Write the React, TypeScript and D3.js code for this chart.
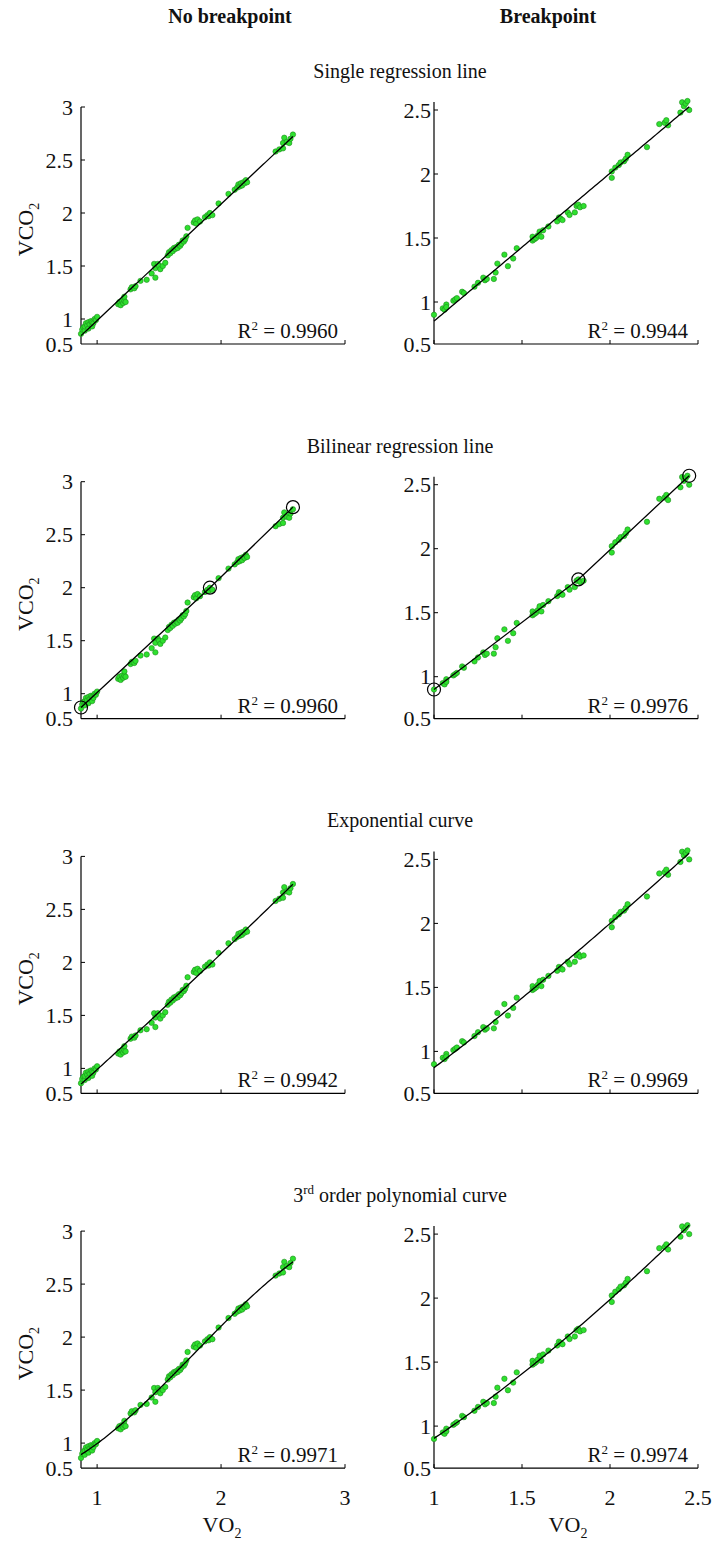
import * as d3 from "d3"

// VO2 / VCO2 samples, no breakpoint subject (left column)
const noBpVO2 = [
  0.87, 0.88, 0.89, 0.90, 0.90, 0.91, 0.92, 0.93, 0.93, 0.94, 0.95, 0.96, 0.96, 0.97, 0.98, 0.99, 1.00,
  1.17, 1.18, 1.19, 1.20, 1.21, 1.22, 1.22, 1.23,
  1.27, 1.28, 1.30, 1.31, 1.35, 1.40,
  1.44, 1.46, 1.47, 1.47, 1.49, 1.50, 1.51, 1.53, 1.55,
  1.57, 1.58, 1.59, 1.60, 1.61, 1.62, 1.63, 1.64, 1.65, 1.66, 1.67, 1.68, 1.69, 1.70, 1.71,
  1.72, 1.73, 1.78, 1.79, 1.80, 1.81, 1.83, 1.87, 1.89, 1.90, 1.91, 1.93, 1.98, 2.06,
  2.11, 2.13, 2.14, 2.15, 2.16, 2.17, 2.18, 2.19, 2.20, 2.21,
  2.44, 2.47, 2.50, 2.50, 2.51, 2.53, 2.55, 2.56, 2.58,
]
const noBpVCO2 = [
  0.86, 0.90, 0.92, 0.89, 0.93, 0.96, 0.94, 0.97, 0.91, 0.95, 0.98, 0.93, 0.97, 0.96, 1.00, 0.99, 1.02,
  1.14, 1.16, 1.13, 1.17, 1.15, 1.17, 1.21, 1.16,
  1.28, 1.30, 1.29, 1.31, 1.36, 1.37,
  1.43, 1.52, 1.39, 1.48, 1.52, 1.50, 1.47, 1.50, 1.53,
  1.60, 1.63, 1.62, 1.65, 1.64, 1.67, 1.66, 1.68, 1.67, 1.70, 1.69, 1.71, 1.74, 1.73, 1.75,
  1.78, 1.86, 1.91, 1.93, 1.90, 1.94, 1.92, 1.96, 1.98, 1.97, 2.00, 1.98, 2.09, 2.18,
  2.22, 2.24, 2.27, 2.25, 2.28, 2.26, 2.29, 2.28, 2.31, 2.29,
  2.58, 2.60, 2.61, 2.66, 2.71, 2.67, 2.66, 2.70, 2.74,
]

// breakpoint subject (right column)
const bpVO2 = [
  1.00, 1.05, 1.06, 1.07, 1.07, 1.11, 1.12, 1.13, 1.16, 1.17, 1.23, 1.25, 1.28, 1.29, 1.30,
  1.34, 1.35, 1.36, 1.40, 1.42, 1.45, 1.47,
  1.56, 1.56, 1.57, 1.58, 1.59, 1.60, 1.61, 1.62, 1.65, 1.70, 1.71, 1.72, 1.73, 1.76, 1.77,
  1.80, 1.81, 1.82, 1.83, 1.85,
  2.01, 2.01, 2.03, 2.05, 2.06, 2.08, 2.09, 2.10, 2.21,
  2.28, 2.31, 2.32, 2.33, 2.40, 2.41, 2.42, 2.43, 2.44, 2.45,
]
const bpVCO2 = [
  0.90, 0.95, 0.94, 0.98, 0.96, 1.01, 1.02, 1.03, 1.08, 1.07, 1.12, 1.15, 1.19, 1.17, 1.18,
  1.18, 1.23, 1.30, 1.37, 1.28, 1.34, 1.42,
  1.48, 1.51, 1.49, 1.50, 1.52, 1.55, 1.51, 1.56, 1.59, 1.63, 1.66, 1.65, 1.64, 1.70, 1.68,
  1.70, 1.75, 1.76, 1.74, 1.75,
  1.97, 2.02, 2.05, 2.07, 2.09, 2.10, 2.12, 2.15, 2.21,
  2.39, 2.40, 2.42, 2.38, 2.48, 2.56, 2.53, 2.55, 2.57, 2.50,
]

// bilinear knots (circled)
const noBpKnotVO2 = [0.87, 1.91, 2.58]
const noBpKnotVCO2 = [0.87, 2.0, 2.76]
const bpKnotVO2 = [1.0, 1.82, 2.45]
const bpKnotVCO2 = [0.9, 1.76, 2.57]

const columnTitles = ["No breakpoint", "Breakpoint"]
const rowTitles = ["Single regression line", "Bilinear regression line", "Exponential curve", "3rd order polynomial curve"]
const fitTypes = ["linear", "bilinear", "exp", "cubic"]
const noBpR2 = ["0.9960", "0.9960", "0.9942", "0.9971"]
const bpR2 = ["0.9944", "0.9976", "0.9969", "0.9974"]

const noBpXTicks = [1, 2, 3]
const bpXTicks = [1, 1.5, 2, 2.5]
// the lowest label sits on the axis floor
const noBpYTicks = [1, 1.5, 2, 2.5, 3]
const bpYTicks = [1, 1.5, 2, 2.5]
const yFloorLabel = "0.5"

const W = 713
const H = 1542
const ROW_STEP = 374.7
const AXIS_BOTTOM = 344
const FONT = "'Liberation Serif', 'Times New Roman', serif"
const DOT_FILL = "#2ee02e"
const DOT_STROKE = "#1c8c1c"
const TEXT = "#111"

function linearFit(xs: number[], ys: number[]) {
  const mx = d3.mean(xs)!, my = d3.mean(ys)!
  let sxy = 0, sxx = 0
  xs.forEach((x, i) => { sxy += (x - mx) * (ys[i] - my); sxx += (x - mx) * (x - mx) })
  const b = sxy / sxx
  return { a: my - b * mx, b, f: (x: number) => my + b * (x - mx) }
}

// y = a * x^b, nonlinear least squares (Gauss-Newton from log-log start)
function expFit(xs: number[], ys: number[]) {
  const lg = linearFit(xs.map(Math.log), ys.map(Math.log))
  let a = Math.exp(lg.a), b = lg.b
  for (let it = 0; it < 60; it++) {
    let j11 = 0, j12 = 0, j22 = 0, g1 = 0, g2 = 0
    xs.forEach((x, i) => {
      const e = Math.pow(x, b)
      const r = ys[i] - a * e
      const da = e, db = a * Math.log(x) * e
      j11 += da * da; j12 += da * db; j22 += db * db
      g1 += da * r; g2 += db * r
    })
    const det = j11 * j22 - j12 * j12
    a += (j22 * g1 - j12 * g2) / det
    b += (j11 * g2 - j12 * g1) / det
  }
  return (x: number) => a * Math.pow(x, b)
}

function cubicFit(xs: number[], ys: number[]) {
  const mx = d3.mean(xs)!
  const n = 4
  const A = d3.range(n).map(() => new Array(n + 1).fill(0))
  xs.forEach((x0, k) => {
    const x = x0 - mx
    for (let i = 0; i < n; i++) {
      for (let j = 0; j < n; j++) A[i][j] += Math.pow(x, i + j)
      A[i][n] += Math.pow(x, i) * ys[k]
    }
  })
  for (let c = 0; c < n; c++) {
    let p = c
    for (let r = c + 1; r < n; r++) if (Math.abs(A[r][c]) > Math.abs(A[p][c])) p = r
    ;[A[c], A[p]] = [A[p], A[c]]
    for (let r = 0; r < n; r++) {
      if (r === c) continue
      const f = A[r][c] / A[c][c]
      for (let k = c; k <= n; k++) A[r][k] -= f * A[c][k]
    }
  }
  const coef = A.map((row, i) => row[n] / row[i])
  return (x: number) => coef.reduce((s, c, i) => s + c * Math.pow(x - mx, i), 0)
}

type PanelProps = {
  row: number
  col: number
  vo2: number[]
  vco2: number[]
  knotVO2: number[]
  knotVCO2: number[]
  xDomain: [number, number]
  yDomain: [number, number]
  xTicks: number[]
  yTicks: number[]
  r2: string
}

function Panel({ row, col, vo2, vco2, knotVO2, knotVCO2, xDomain, yDomain, xTicks, yTicks, r2 }: PanelProps) {
  const left = col === 0 ? 81 : 434
  const right = col === 0 ? 345 : 698
  const off = row * ROW_STEP
  const bottom = AXIS_BOTTOM + off
  // left: 3 at y=107, right: 2.5625 at y=102
  const top = (col === 0 ? 107 : 102) + off
  const x = d3.scaleLinear().domain(xDomain).range([left, right])
  const y = d3.scaleLinear().domain(yDomain).range([bottom, top])
  const type = fitTypes[row]
  const line = d3.line<[number, number]>().x(d => x(d[0])).y(d => y(d[1]))

  let pathD = ""
  if (type === "bilinear") {
    pathD = line(knotVO2.map((v, i) => [v, knotVCO2[i]] as [number, number])) || ""
  } else {
    const f = type === "linear" ? linearFit(vo2, vco2).f : type === "exp" ? expFit(vo2, vco2) : cubicFit(vo2, vco2)
    const [x0, x1] = d3.extent(vo2) as [number, number]
    const pts = d3.range(0, 101).map(i => x0 + (x1 - x0) * i / 100)
    pathD = line(pts.map(v => [v, f(v)] as [number, number])) || ""
  }

  const isBottom = row === 3
  const titleY = 78 + off
  const labelX = col === 0 ? left - 8 : left - 3

  return (
    <g fontFamily={FONT}>
      {col === 0 && (
        <text x={400} y={titleY} fontSize={20} textAnchor="middle" fill={TEXT}>
          {row === 3 ? (
            <>
              3<tspan fontSize={13} dy={-8}>rd</tspan>
              <tspan dy={8}> order polynomial curve</tspan>
            </>
          ) : rowTitles[row]}
        </text>
      )}
      <line x1={left} x2={left} y1={top} y2={bottom} stroke="#000" strokeWidth={1.2} />
      <line x1={left} x2={right} y1={bottom} y2={bottom} stroke="#000" strokeWidth={1.2} />
      {yTicks.map(t => (
        <g key={"y" + t}>
          <line x1={left} x2={left + 4} y1={y(t)} y2={y(t)} stroke="#000" strokeWidth={1} />
          <text x={labelX} y={y(t)} dy="0.35em" fontSize={22} textAnchor="end" fill={TEXT}>{String(t)}</text>
        </g>
      ))}
      <text x={labelX} y={bottom} dy="0.35em" fontSize={22} textAnchor="end" fill={TEXT}>{yFloorLabel}</text>
      {xTicks.map(t => (
        <g key={"x" + t}>
          <line x1={x(t)} x2={x(t)} y1={bottom} y2={bottom - 4} stroke="#000" strokeWidth={1} />
          {isBottom && (
            <text x={x(t)} y={bottom + 37} fontSize={22} textAnchor="middle" fill={TEXT}>{String(t)}</text>
          )}
        </g>
      ))}
      {col === 0 && (
        <text transform={`translate(33,${(top + bottom) / 2 + 4}) rotate(-90)`} fontSize={22} textAnchor="middle" fill={TEXT}>
          VCO<tspan fontSize={14} dy={6}>2</tspan>
        </text>
      )}
      {isBottom && (
        <text x={(left + right) / 2 + (col === 0 ? 9 : 2)} y={bottom + 64} fontSize={22} textAnchor="middle" fill={TEXT}>
          VO<tspan fontSize={14} dy={6}>2</tspan>
        </text>
      )}
      {vo2.map((v, i) => (
        <circle key={i} cx={x(v)} cy={y(vco2[i])} r={2.7} fill={DOT_FILL} stroke={DOT_STROKE} strokeWidth={0.6} />
      ))}
      <path d={pathD} fill="none" stroke="#000" strokeWidth={1.3} />
      {type === "bilinear" && knotVO2.map((v, i) => (
        <circle key={"k" + i} cx={x(v)} cy={y(knotVCO2[i])} r={6.5} fill="none" stroke="#000" strokeWidth={1.2} />
      ))}
      <text x={col === 0 ? 338 : 688} y={bottom - 6} fontSize={21} textAnchor="end" fill={TEXT}>
        R<tspan fontSize={13} dy={-8}>2</tspan><tspan dy={8}> = {r2}</tspan>
      </text>
    </g>
  )
}

export default function App() {
  // axis floors: left 1 at 319 (106 px/unit) -> floor at 344; right 1 at 302 (128 px/unit)
  const noBpX: [number, number] = [d3.min(noBpVO2)!, 3]
  const bpX: [number, number] = [d3.min(bpVO2)!, 2.5]
  const noBpY: [number, number] = [1 - 25 / 106, 3]
  const bpY: [number, number] = [1 - 42 / 128, 1 + 200 / 128]
  return (
    <svg width={W} height={H} style={{ position: "absolute", left: 0, top: 0, background: "#fff" }}>
      <rect width={W} height={H} fill="#fff" />
      <text x={230} y={23} fontFamily={FONT} fontSize={20} fontWeight={700} textAnchor="middle" fill={TEXT}>{columnTitles[0]}</text>
      <text x={548} y={23} fontFamily={FONT} fontSize={20} fontWeight={700} textAnchor="middle" fill={TEXT}>{columnTitles[1]}</text>
      {rowTitles.map((_, row) => (
        <g key={row}>
          <Panel row={row} col={0} vo2={noBpVO2} vco2={noBpVCO2} knotVO2={noBpKnotVO2} knotVCO2={noBpKnotVCO2}
            xDomain={noBpX} yDomain={noBpY} xTicks={noBpXTicks} yTicks={noBpYTicks} r2={noBpR2[row]} />
          <Panel row={row} col={1} vo2={bpVO2} vco2={bpVCO2} knotVO2={bpKnotVO2} knotVCO2={bpKnotVCO2}
            xDomain={bpX} yDomain={bpY} xTicks={bpXTicks} yTicks={bpYTicks} r2={bpR2[row]} />
        </g>
      ))}
    </svg>
  )
}
